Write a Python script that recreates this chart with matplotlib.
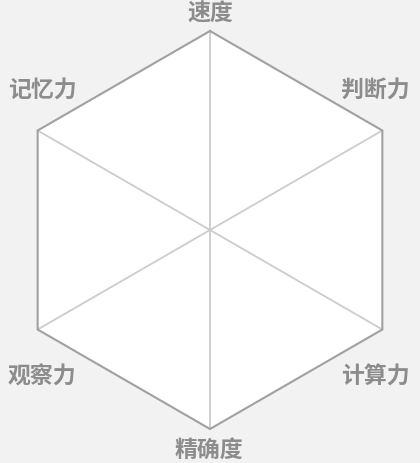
import numpy as np
import matplotlib
matplotlib.use("Agg")
import matplotlib.pyplot as plt

plt.rcParams['font.family'] = ['Noto Sans CJK SC', 'DejaVu Sans']

# categories, clockwise from the top
categories = ["速度", "判断力", "计算力", "精确度", "观察力", "记忆力"]

bg = "#f2f2f2"
fig = plt.figure(figsize=(4.2, 4.64), dpi=100, facecolor=bg)
ax = fig.add_axes([0, 0, 1, 1])
ax.set_xlim(0, 420)
ax.set_ylim(464, 0)
ax.axis("off")

cx, cy, r = 210, 231, 199
n = len(categories)
angles = np.pi / 2 - np.arange(n) * 2 * np.pi / n
vx = cx + r * np.cos(angles)
vy = cy - r * np.sin(angles)

# hexagon fill and outline
ax.fill(vx, vy, color="white", zorder=1)
ax.plot(np.append(vx, vx[0]), np.append(vy, vy[0]), color="#a0a0a0", lw=1.5, zorder=3)

# spokes
for x, y in zip(vx, vy):
    ax.plot([cx, x], [cy, y], color="#cccccc", lw=1.3, zorder=2)

# label placement
label_pos = [(210, 14), (375, 90), (375, 377), (209, 450), (42, 377), (42, 90)]
for name, (lx, ly) in zip(categories, label_pos):
    ax.text(lx, ly, name, ha="center", va="center", fontsize=16.5,
            fontweight="bold", color="#8c8c8c")

fig.savefig("out.png", dpi=100, facecolor=bg)
